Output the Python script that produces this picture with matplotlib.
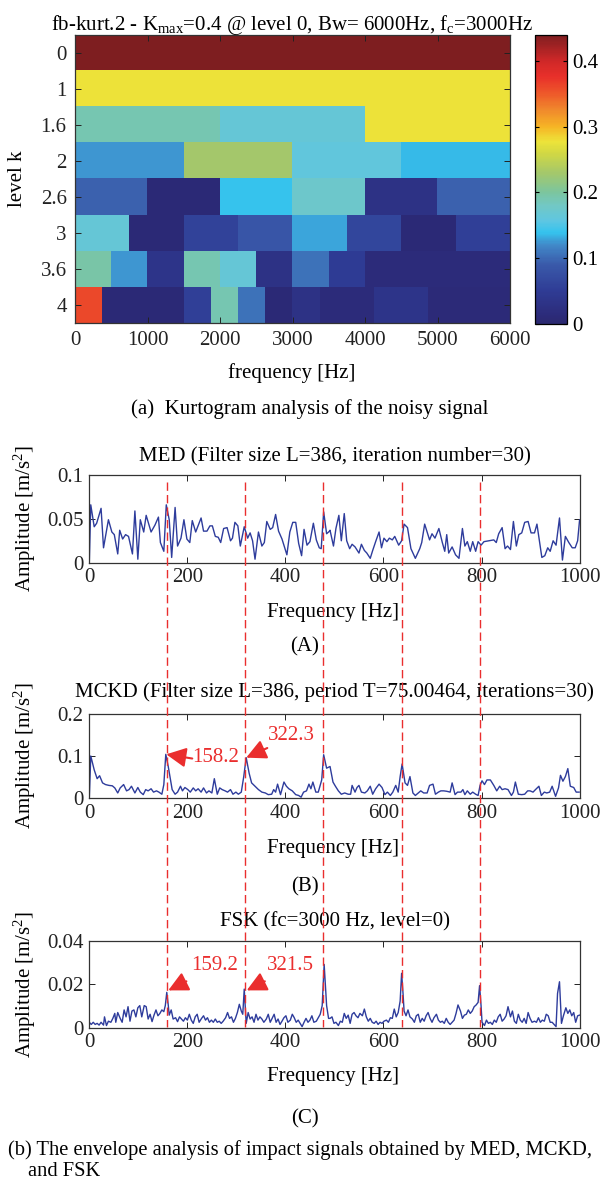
import numpy as np
import matplotlib
matplotlib.use("Agg")
import matplotlib.pyplot as plt
from matplotlib.colors import LinearSegmentedColormap
from matplotlib.lines import Line2D
from matplotlib.transforms import blended_transform_factory

plt.rcParams["font.family"] = "Liberation Serif"
plt.rcParams["mathtext.fontset"] = "custom"
plt.rcParams["mathtext.rm"] = "Liberation Serif"
plt.rcParams["mathtext.it"] = "Liberation Serif:italic"

W, H = 602, 1189
FS = 15
BLUE = "#2E3C9C"
RED = "#EA2E2E"

# ---- kurtogram (one list per level, band values left -> right) ----
level_labels = ["0", "1", "1.6", "2", "2.6", "3", "3.6", "4"]
lvl_0 = [0.44]
lvl_1 = [0.277, 0.277]
lvl_1_6 = [0.19, 0.165, 0.277]
lvl_2 = [0.125, 0.23, 0.16, 0.137]
lvl_2_6 = [0.095, 0.01, 0.14, 0.175, 0.03, 0.095]
lvl_3 = [0.165, 0.01, 0.06, 0.085, 0.13, 0.065, 0.01, 0.055]
lvl_3_6 = [0.195, 0.125, 0.035, 0.19, 0.165, 0.03, 0.105, 0.05,
           0.015, 0.015, 0.015, 0.015]
lvl_4 = [0.36, 0.01, 0.01, 0.01, 0.055, 0.19, 0.105, 0.01,
         0.03, 0.015, 0.015, 0.035, 0.035, 0.012, 0.012, 0.012]
kurt_levels = [lvl_0, lvl_1, lvl_1_6, lvl_2, lvl_2_6, lvl_3, lvl_3_6, lvl_4]

# ---- MED envelope spectrum ----
med_f = [0, 3, 10, 15, 24, 29, 39, 46, 51, 58, 62, 68, 74, 80, 88, 93, 99, 104, 111, 116,
         126, 134, 141, 145, 152, 157, 163, 168, 175, 180, 187, 193, 199, 205, 210, 217, 228, 233, 240, 246,
         251, 257, 263, 268, 274, 281, 288, 292, 297, 303, 308, 316, 323, 328, 333, 338, 345, 352, 357, 362,
         369, 374, 380, 386, 393, 403, 409, 415, 421, 427, 433, 438, 444, 450, 457, 463, 469, 473, 478, 484,
         490,
         491, 498, 503, 509, 514, 520, 525, 531, 536, 542, 550, 555, 561, 566, 573, 578, 584, 591, 596, 601,
         607, 612, 618, 623, 631, 637, 642, 649, 656, 665, 674, 678, 684, 694, 699, 705, 713, 720, 725, 729,
         733, 740, 747, 754, 761, 766, 771, 777, 782, 788, 793, 799, 805, 815, 825, 830, 835, 842, 848, 853,
         859, 865, 871, 876, 882, 888, 895, 901, 908, 913, 923, 929, 935, 940, 946, 952, 959, 965, 971, 978,
         985, 991, 996, 1000]
med_a = [0, 0.066, 0.041, 0.045, 0.062, 0.017, 0.049, 0.035, 0.032, 0.010,
         0.037, 0.027, 0.032, 0.030, 0.010, 0.059, 0.004, 0.049, 0.035, 0.054,
         0.035, 0.043, 0.052, 0.023, 0.013, 0.066, 0.049, 0.006, 0.063, 0.019,
         0.028, 0.049, 0.027, 0.023, 0.048, 0.035, 0.051, 0.036, 0.036, 0.042,
         0.042, 0.030, 0.029, 0.023, 0.039, 0.040, 0.025, 0.028, 0.046, 0.042,
         0.019, 0.041, 0.028, 0.034, 0.025, 0.004, 0.035, 0.019, 0.023, 0.047,
         0.038, 0.040, 0.055, 0.036, 0.027, 0.009, 0.035, 0.046, 0.046, 0.022,
         0.008, 0.038, 0.020, 0.024, 0.045, 0.026, 0.017, 0.016, 0.058, 0.033,
         0.036,
         0.037, 0.019, 0.039, 0.054, 0.025, 0.056, 0.025, 0.016, 0.021, 0.018,
         0.011, 0.021, 0.014, 0.011, 0.005, 0.014, 0.024, 0.035, 0.017, 0.028,
         0.024, 0.028, 0.026, 0.030, 0.020, 0.025, 0.044, 0.040, 0.016, 0.005,
         0.016, 0.023, 0.044, 0.026, 0.033, 0.028, 0.039, 0.023, 0.013, 0.032,
         0.011, 0.018, 0.009, 0.005, 0.039, 0.019, 0.024, 0.013, 0.024, 0.013,
         0.024, 0.020, 0.024, 0.025, 0.026, 0.023, 0.033, 0.040, 0.016, 0.019,
         0.015, 0.047, 0.019, 0.032, 0.034, 0.046, 0.047, 0.034, 0.034, 0.044,
         0.006, 0.008, 0.017, 0.013, 0.025, 0.020, 0.051, 0.003, 0.030, 0.023,
         0.017, 0.017, 0.025, 0.049]

# ---- MCKD envelope spectrum ----
mckd_f = [0, 3, 10, 16, 21, 27, 33, 40, 47, 52, 58, 63, 70, 76, 81, 86, 93, 99, 104, 110,
          115, 120, 126, 131, 137, 142, 148, 152, 156, 161, 165, 169, 175, 180, 186, 190, 195, 201, 206, 212,
          217, 222, 228, 233, 239, 244, 250, 255, 261, 266, 271, 277, 282, 288, 293, 299, 304, 310, 315, 320,
          326, 331, 338, 345, 352, 359, 365, 372, 376, 380, 384, 390, 397, 402, 407, 414, 421, 427, 432, 437,
          443, 448, 452, 456, 462, 467, 474, 478, 484,
          491, 497, 502, 508, 514, 521, 528, 533, 536, 542, 546, 550, 555, 562, 567, 573, 578, 584, 591, 597,
          603, 608, 614, 619, 625, 630, 634, 638, 644, 649, 654, 660, 665, 671, 676, 682, 689, 694, 701, 706,
          712, 717, 723, 729, 736, 740, 746, 751, 758, 762, 766, 771, 777, 782, 788, 793, 797, 801, 806, 811,
          818, 825, 831, 837, 842, 848, 854, 861, 865, 869, 875, 882, 888, 894, 899, 905, 910, 917, 922, 928,
          933, 939, 944, 951, 957, 961, 966, 971, 976, 981, 988, 993, 999]
mckd_a = [0, 0.100, 0.067, 0.046, 0.053, 0.036, 0.032, 0.030, 0.029, 0.024,
          0.012, 0.024, 0.032, 0.017, 0.020, 0.028, 0.012, 0.025, 0.014, 0.008,
          0.020, 0.017, 0.022, 0.014, 0.017, 0.014, 0.009, 0.032, 0.104, 0.075,
          0.047, 0.020, 0.009, 0.014, 0.028, 0.017, 0.025, 0.020, 0.014, 0.024,
          0.017, 0.022, 0.014, 0.024, 0.012, 0.017, 0.012, 0.046, 0.009, 0.024,
          0.020, 0.017, 0.014, 0.020, 0.009, 0.014, 0.009, 0.014, 0.051, 0.096,
          0.059, 0.036, 0.028, 0.020, 0.014, 0.012, 0.008, 0.009, 0.020, 0.014,
          0.033, 0.008, 0.038, 0.028, 0.022, 0.017, 0.008, 0.006, 0.002, 0.014,
          0.017, 0.033, 0.022, 0.038, 0.014, 0.014, 0.043, 0.103, 0.071,
          0.075, 0.038, 0.028, 0.017, 0.009, 0.012, 0.009, 0.009, 0.030, 0.014,
          0.025, 0.030, 0.014, 0.012, 0.017, 0.028, 0.009, 0.022, 0.033, 0.025,
          0.008, 0.014, 0.006, 0.014, 0.030, 0.014, 0.051, 0.081, 0.036, 0.030,
          0.051, 0.012, 0.006, 0.012, 0.017, 0.012, 0.012, 0.030, 0.033, 0.009,
          0.014, 0.017, 0.017, 0.016, 0.014, 0.036, 0.008, 0.014, 0.014, 0.020,
          0.008, 0.017, 0.009, 0.014, 0.009, 0.006, 0.030, 0.041, 0.032, 0.043,
          0.043, 0.030, 0.017, 0.028, 0.020, 0.022, 0.020, 0.006, 0.014, 0.038,
          0.009, 0.008, 0.009, 0.017, 0.017, 0.014, 0.020, 0.028, 0.006, 0.014,
          0.012, 0.014, 0.028, 0.004, 0.024, 0.054, 0.040, 0.051, 0.070, 0.028,
          0.025, 0.014, 0.014]

# ---- FSK envelope spectrum ----
fsk_f = [0, 4, 8, 12, 16, 20, 24, 29, 31, 35, 39, 44, 48, 52, 54, 58, 63, 67, 71, 75,
         79, 83, 87, 91, 95, 99, 103, 107, 112, 116, 120, 124, 128, 132, 136, 140, 144, 148, 152, 155,
         158, 161, 163, 167, 171, 176, 180, 184, 188, 192, 196, 200, 204, 208, 212, 216, 220, 224, 229, 233,
         237, 241, 245, 249, 253, 257, 261, 265, 269, 273, 278, 282, 286, 290, 294, 298, 302, 306, 310, 313,
         316, 320, 324, 328, 332, 336, 340, 344, 348, 352, 356, 361, 365, 369, 373, 377, 381, 385, 389, 393,
         397, 401, 405, 410, 414, 418, 422, 426, 430, 434, 438, 442, 446, 450, 454, 458, 463, 467, 471, 475,
         479, 482, 484, 488,
         491, 495, 499, 503, 508, 512, 516, 520, 524, 528, 532, 536, 540, 544, 548, 552, 557, 561, 565, 569,
         573, 577, 581, 585, 589, 593, 597, 601, 606, 610, 614, 618, 622, 626, 630, 634, 637, 640, 642, 646,
         650, 654, 659, 663, 667, 671, 675, 679, 683, 687, 691, 695, 699, 703, 708, 712, 716, 720, 724, 728,
         732, 736, 740, 744, 748, 752, 757, 761, 765, 769, 773, 777, 781, 785, 789, 793, 796, 799, 801, 806,
         810, 814, 818, 822, 826, 830, 834, 838, 842, 846, 850, 854, 859, 863, 867, 871, 875, 879, 883, 887,
         891, 895, 899, 903, 908, 912, 916, 920, 924, 928, 932, 936, 940, 944, 948, 952, 955, 959, 963, 967,
         972, 976, 980, 984, 988, 992, 996, 1000]
fsk_a = [0.0025, 0.0015, 0.0025, 0.0015, 0.0020, 0.0012, 0.0025, 0.0012, 0.0050, 0.0010,
         0.0030, 0.0025, 0.0043, 0.0066, 0.0025, 0.0070, 0.0043, 0.0025, 0.0082, 0.0050,
         0.0097, 0.0030, 0.0077, 0.0082, 0.0050, 0.0092, 0.0102, 0.0050, 0.0102, 0.0097,
         0.0040, 0.0062, 0.0028, 0.0058, 0.0082, 0.0055, 0.0066, 0.0082, 0.0074, 0.0102,
         0.0163, 0.0105, 0.0058, 0.0082, 0.0040, 0.0046, 0.0028, 0.0050, 0.0040, 0.0030,
         0.0046, 0.0035, 0.0062, 0.0035, 0.0020, 0.0050, 0.0062, 0.0025, 0.0043, 0.0055,
         0.0035, 0.0046, 0.0025, 0.0035, 0.0025, 0.0040, 0.0025, 0.0030, 0.0020, 0.0030,
         0.0046, 0.0070, 0.0043, 0.0050, 0.0025, 0.0043, 0.0070, 0.0108, 0.0077, 0.0062,
         0.0178, 0.0020, 0.0070, 0.0040, 0.0050, 0.0025, 0.0062, 0.0035, 0.0050, 0.0040,
         0.0025, 0.0040, 0.0062, 0.0025, 0.0043, 0.0062, 0.0025, 0.0040, 0.0015, 0.0030,
         0.0046, 0.0055, 0.0025, 0.0035, 0.0062, 0.0046, 0.0025, 0.0035, 0.0020, 0.0005,
         0.0025, 0.0043, 0.0025, 0.0035, 0.0055, 0.0025, 0.0030, 0.0046, 0.0062, 0.0102,
         0.0292, 0.0174, 0.0102, 0.0043,
         0.0043, 0.0050, 0.0020, 0.0025, 0.0010, 0.0030, 0.0025, 0.0066, 0.0043, 0.0058,
         0.0020, 0.0062, 0.0070, 0.0055, 0.0046, 0.0066, 0.0055, 0.0086, 0.0050, 0.0030,
         0.0043, 0.0025, 0.0020, 0.0030, 0.0015, 0.0025, 0.0020, 0.0030, 0.0035, 0.0025,
         0.0046, 0.0043, 0.0086, 0.0050, 0.0070, 0.0123, 0.0251, 0.0154, 0.0077, 0.0055,
         0.0082, 0.0050, 0.0040, 0.0025, 0.0055, 0.0062, 0.0025, 0.0043, 0.0030, 0.0055,
         0.0070, 0.0043, 0.0025, 0.0046, 0.0062, 0.0035, 0.0025, 0.0030, 0.0020, 0.0043,
         0.0025, 0.0015, 0.0025, 0.0035, 0.0066, 0.0105, 0.0077, 0.0043, 0.0058, 0.0062,
         0.0082, 0.0066, 0.0077, 0.0097, 0.0105, 0.0117, 0.0194, 0.0102, 0.0025, 0.0010,
         0.0035, 0.0020, 0.0025, 0.0015, 0.0035, 0.0025, 0.0050, 0.0062, 0.0030, 0.0040,
         0.0055, 0.0097, 0.0050, 0.0077, 0.0030, 0.0020, 0.0062, 0.0035, 0.0025, 0.0043,
         0.0020, 0.0070, 0.0043, 0.0025, 0.0030, 0.0025, 0.0046, 0.0025, 0.0035, 0.0030,
         0.0062, 0.0055, 0.0025, 0.0025, 0.0015, 0.0005, 0.0158, 0.0212, 0.0020, 0.0055,
         0.0092, 0.0066, 0.0082, 0.0055, 0.0070, 0.0025, 0.0055, 0.0058]

# fault frequency harmonics (dashed guides) and labelled peaks
harmonics = [159.2, 318.4, 477.6, 636.8, 796.0]
freq_ticks = [0, 200, 400, 600, 800, 1000]


def px(x, y):
    """pixel (from top-left) -> figure fraction"""
    return x / W, 1 - y / H


def box(l, t, r, b):
    return [l / W, 1 - b / H, (r - l) / W, (b - t) / H]


def matlab_axes(ax, xpad=4, ypad=4):
    ax.tick_params(direction="in", top=True, right=True, length=4,
                   width=0.7, labelsize=FS, colors="#222222")
    ax.tick_params(axis="x", pad=xpad)
    ax.tick_params(axis="y", pad=ypad)
    for s in ax.spines.values():
        s.set_linewidth(0.9)
        s.set_color("#333333")


fig = plt.figure(figsize=(W / 100, H / 100), dpi=100)

# ================= (a) kurtogram =================
cmap = LinearSegmentedColormap.from_list("muted_jet", [
    (0.000, "#2B2970"), (0.023, "#2C2A78"), (0.114, "#2F3C95"),
    (0.205, "#3A5AAA"), (0.273, "#418AC9"), (0.316, "#35C3EE"),
    (0.355, "#5EC6E2"), (0.409, "#72C8C4"), (0.455, "#7CC59E"),
    (0.523, "#A5C86A"), (0.591, "#D2D843"), (0.630, "#EDE43A"),
    (0.682, "#F6B425"), (0.739, "#F08A2C"), (0.795, "#EE5A2A"),
    (0.855, "#E8302A"), (0.909, "#D02828"), (1.000, "#7E1E20"),
])

grid = np.array([np.repeat(r, 48 // len(r)) for r in kurt_levels])

axk = fig.add_axes(box(75, 34.5, 510, 323))
im = axk.imshow(grid, cmap=cmap, vmin=0, vmax=0.44, aspect="auto",
                interpolation="nearest", extent=(0, 6000, 7.5, -0.5))
axk.set_xlim(0, 6000)
axk.set_xticks(range(0, 6001, 1000))
axk.set_yticks(range(len(level_labels)))
axk.set_yticklabels(level_labels)
matlab_axes(axk, xpad=6, ypad=6)
axk.set_title(r"fb-kurt.2 - K$_{\mathrm{max}}$=0.4 @ level 0, Bw= 6000Hz, f$_{\mathrm{c}}$=3000Hz",
              fontsize=FS, pad=3)
axk.set_ylabel("level k", fontsize=FS)
axk.yaxis.set_label_coords((27 - 75) / 435, 0.5)

cax = fig.add_axes(box(534.5, 34.5, 567, 324))
cb = fig.colorbar(im, cax=cax, ticks=[0, 0.1, 0.2, 0.3, 0.4])
cb.ax.set_yticklabels(["0", "0.1", "0.2", "0.3", "0.4"])
cb.ax.tick_params(direction="in", left=True, right=True, length=3,
                  labelsize=FS, pad=4)
cb.outline.set_linewidth(0.9)

fig.text(*px(292, 373), "frequency [Hz]", ha="center", va="center", fontsize=FS)
fig.text(*px(310, 409), "(a)  Kurtogram analysis of the noisy signal",
         ha="center", va="center", fontsize=FS)

# ================= (b) envelope spectra =================
panels = [
    (med_f, med_a, [0, 0.05, 0.1], ["0", "0.05", "0.1"], 0.1,
     "MED (Filter size L=386, iteration number=30)", (475, 562.7), 457, 613, "(A)", 647),
    (mckd_f, mckd_a, [0, 0.1, 0.2], ["0", "0.1", "0.2"], 0.2,
     "MCKD (Filter size L=386, period T=75.00464, iterations=30)", (714, 798), 692, 849, "(B)", 887),
    (fsk_f, fsk_a, [0, 0.02, 0.04], ["0", "0.02", "0.04"], 0.04,
     "FSK (fc=3000 Hz, level=0)", (941, 1027.7), 922, 1077, "(C)", 1119),
]

axes = []
for f, a, yt, ytl, ymax, title, (top, bot), ty, xly, tag, tagy in panels:
    ax = fig.add_axes(box(89.3, top, 579.6, bot))
    ax.plot(f, a, color=BLUE, lw=1.0)
    ax.set_xlim(0, 1000)
    ax.set_ylim(0, ymax)
    ax.set_xticks(freq_ticks)
    ax.set_yticks(yt)
    ax.set_yticklabels(ytl)
    matlab_axes(ax, xpad=4, ypad=4)
    ax.set_ylabel(r"Amplitude [m/s$^2$]", fontsize=FS)
    ax.yaxis.set_label_coords((38 - 89.3) / 490.3, 0.5)
    fig.text(*px(334.5, ty), title, ha="center", va="center", fontsize=FS)
    fig.text(*px(333, xly), "Frequency [Hz]", ha="center", va="center", fontsize=FS)
    fig.text(*px(305, tagy), tag, ha="center", va="center", fontsize=FS)
    axes.append(ax)

ax_med, ax_mckd, ax_fsk = axes

# red dashed harmonic guides running through all three spectra
tr = blended_transform_factory(ax_fsk.transData, fig.transFigure)
for h in harmonics:
    fig.add_artist(Line2D([h, h], [1 - 482 / H, 1 - 1027 / H], transform=tr,
                          color=RED, lw=1.0, ls=(0, (6, 3)), zorder=5))

# peak call-outs
arrow = dict(arrowstyle="-|>,head_length=1.0,head_width=0.5", color=RED,
             lw=1.5, mutation_scale=12, shrinkA=0, shrinkB=0)
callouts = [
    (ax_mckd, "158.2", (157, 0.104), (210, 0.094), (210, 0.097)),
    (ax_mckd, "322.3", (320, 0.096), (363, 0.119), (364, 0.150)),
    (ax_fsk, "159.2", (161, 0.0172), (198, 0.0214), (207, 0.0286)),
    (ax_fsk, "321.5", (321, 0.0172), (358, 0.0214), (362, 0.0286)),
]
for ax, lab, tip, tail, txt in callouts:
    ax.annotate("", xy=tip, xytext=tail, arrowprops=arrow, annotation_clip=False)
    ax.text(*txt, lab, color=RED, fontsize=FS, ha="left", va="center", clip_on=False)

fig.text(*px(8, 1150), "(b) The envelope analysis of impact signals obtained by MED, MCKD,",
         ha="left", va="center", fontsize=14.8)
fig.text(*px(28, 1172), "and FSK", ha="left", va="center", fontsize=14.8)

fig.savefig("out.png", dpi=100, facecolor="white")
